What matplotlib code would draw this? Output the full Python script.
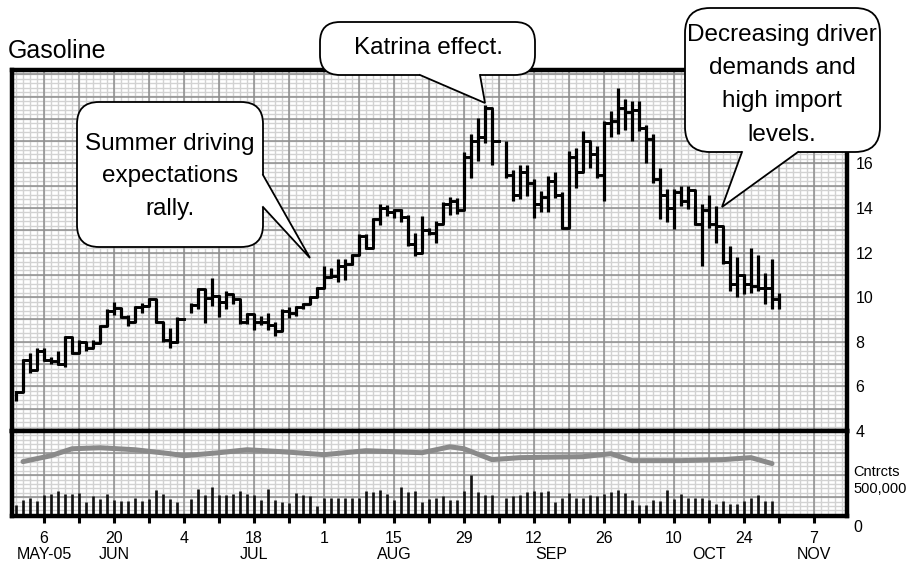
import numpy as np
import matplotlib
matplotlib.use("Agg")
import matplotlib.pyplot as plt
from matplotlib.patches import FancyBboxPatch, Polygon

# ---------------- data ----------------
# trading-day index (business days from Mon 6 Jun 2005); holidays are NaN
days = list(range(-4, 106))
high = [5.8, 7.25, 7.5, 7.7, 7.7, 7.3, 7.6, 8.25, 8.1, 8.1, 8.0, 8.1, 8.75, 9.45, 9.8, 9.5, 9.2, 9.6, 9.75, 9.95,
        9.9, 8.9, 8.6, 9.1, np.nan, 9.75, 10.4, 10.35, 10.85, 10.1, 10.3, 10.05, 9.75, 9.3, 9.25, 9.15, 9.3, 8.9,
        9.45, 9.55, 9.6, 9.75, 10.05, 10.45, 11.4, 11.3, 11.7, 11.7, 11.95, 12.85, 12.85, 13.55, 14.2, 14.15, 13.95,
        13.95, 13.7, 12.9, 13.65, 13.1, 13.4, 14.25, 14.5, 14.45, 16.5, 17.3, 18.05, 18.6, 18.35, np.nan, 17.0, 15.7,
        15.95, 15.95, 15.3, 14.75, 15.45, 15.6, 14.7, 16.55, 16.7, 17.45, 16.95, 16.8, 17.9, 18.35, 19.4, 18.9, 18.8,
        18.8, 17.7, 17.3, 15.8, 14.85, 14.85, 15.0, 15.0, 14.1, 14.2, 14.6, 14.1, 13.1, 12.3, 11.8, 11.05, 12.2,
        11.9, 11.1, 11.7, 10.2]
low = [5.35, 5.75, 6.6, 6.95, 7.15, 7.0, 6.95, 6.85, 7.45, 7.5, 7.6, 7.75, 7.95, 8.7, 9.2, 9.05, 8.7, 8.9, 9.3, 9.6,
       8.85, 8.0, 7.7, 7.95, np.nan, 9.3, 9.45, 8.85, 9.6, 9.1, 9.45, 9.7, 8.8, 8.8, 8.55, 8.75, 8.55, 8.25, 8.5,
       9.05, 9.15, 9.45, 9.7, 10.0, 10.4, 10.85, 10.7, 10.75, 11.45, 11.9, 12.15, 12.5, 13.25, 13.65, 13.55, 13.35,
       12.3, 11.85, 12.2, 12.8, 12.45, 13.35, 13.7, 13.75, 14.4, 15.35, 16.1, 16.9, 15.95, np.nan, 15.35, 14.3, 14.4,
       14.55, 13.55, 13.8, 13.8, 14.45, 13.05, 13.1, 14.9, 15.7, 15.8, 15.35, 14.3, 17.2, 17.3, 17.5, 17.0, 17.45,
       16.0, 15.1, 13.5, 13.35, 13.05, 14.1, 13.95, 13.25, 11.4, 13.1, 12.45, 11.5, 10.3, 10.0, 10.15, 10.2, 10.3,
       9.7, 9.45, 9.45]
close = [5.75, 7.2, 6.75, 7.6, 7.2, 7.15, 7.0, 8.2, 7.5, 8.0, 7.7, 7.95, 8.7, 9.4, 9.5, 9.1, 8.9, 9.55, 9.6, 9.9,
         8.9, 8.1, 8.0, 9.0, np.nan, 9.65, 10.35, 9.95, 10.05, 9.8, 10.15, 9.9, 8.9, 9.25, 8.9, 8.9, 8.75, 8.5, 9.4,
         9.3, 9.55, 9.7, 10.0, 10.4, 10.9, 10.95, 11.4, 11.5, 11.9, 12.75, 12.2, 13.5, 14.0, 13.8, 13.9, 13.6, 12.4,
         12.0, 13.0, 12.9, 13.3, 14.2, 14.3, 13.9, 16.3, 17.0, 17.2, 18.5, 17.0, np.nan, 15.5, 14.6, 15.6, 15.1, 14.2,
         14.5, 15.2, 14.6, 13.1, 16.3, 15.6, 17.0, 16.4, 15.5, 17.8, 17.9, 18.5, 18.3, 18.4, 17.6, 17.1, 15.3, 14.6,
         14.0, 14.7, 14.3, 14.8, 13.3, 13.9, 13.3, 13.2, 11.6, 10.6, 11.0, 10.6, 10.5, 10.4, 10.4, 9.9, 9.8]

vol_days = list(range(-4, 105))
volume = [289, 421, 491, 394, 552, 579, 666, 579, 579, 614, 377, 544, 456, 579, 421, 403, 403, 491, 403, 456,
          701, 579, 456, 368, np.nan, 456, 728, 561, 771, 561, 561, 596, 666, 579, 561, 421, 710, 421, 377, 351,
          614, 561, 544, 263, 491, 491, 491, 491, 491, 491, 666, 640, 684, 596, 421, 771, 640, 666, 377, 465,
          491, 526, 438, 438, 658, 1078, 640, 552, 552, np.nan, 491, 526, 570, 631, 666, 631, 666, 377, 482, 614,
          473, 482, 570, 544, 579, 640, 684, 614, 421, 289, 289, 421, 403, 701, 465, 579, 491, 473, 473, 438,
          316, 403, 316, 316, 403, 491, 552, 403, 403]   # thousands of contracts

oi_days = [-3, 1, 4, 8, 13, 18, 20, 25, 29, 34, 40, 46, 54, 58, 60, 64, 68, 77, 81, 84, 91, 97, 101, 104]
oi = [1447, 1604, 1788, 1815, 1762, 1657, 1604, 1683, 1762, 1710, 1631, 1736, 1683, 1841, 1788, 1499, 1552,
      1578, 1657, 1473, 1473, 1499, 1552, 1394]

week_ticks = list(range(0, 115, 5))
day_labels = ["6", "", "20", "", "4", "", "18", "", "1", "", "15", "", "29", "", "12", "", "26", "", "10", "",
              "24", "", "7"]
months = ["MAY-05", "JUN", "JUL", "AUG", "SEP", "OCT", "NOV"]
month_pos = [0, 10, 30, 50, 72.5, 95, 110]
price_ticks = [4, 6, 8, 10, 12, 14, 16, 18, 20]

# ---------------- layout ----------------
W, H = 908, 566
fig = plt.figure(figsize=(W / 100, H / 100), dpi=100)
fig.patch.set_facecolor("white")
SANS = ["Liberation Sans", "DejaVu Sans"]
plt.rcParams["font.family"] = SANS

L, R, T, MID, B = 12, 847, 70, 431, 516
ax = fig.add_axes([L / W, 1 - MID / H, (R - L) / W, (MID - T) / H])
axv = fig.add_axes([L / W, 1 - B / H, (R - L) / W, (B - MID) / H])

XL = ((L - 44) / 7, (R - 44) / 7)
PX_PER_UNIT = 22.3
ax.set_xlim(*XL)
ax.set_ylim(4, 4 + (MID - T) / PX_PER_UNIT)
G = 500 * PX_PER_UNIT / 19.0
axv.set_xlim(*XL)
axv.set_ylim(0, 500 + 3 * G)

minor_c, major_c = "#d2d2d2", "#8e8e8e"
for a in (ax, axv):
    for d in np.arange(-5, 116, 1):
        a.axvline(d, color=minor_c, lw=1.0, zorder=0)
for d in week_ticks:
    for a in (ax, axv):
        a.axvline(d, color=major_c, lw=1.1, zorder=0.5)

for y in np.arange(4, 20.3, 0.2):
    ax.axhline(y, color=minor_c, lw=1.0, zorder=0)
for y in range(5, 21):
    ax.axhline(y, color=major_c, lw=1.1, zorder=0.5)
for k in range(-3, 16):
    axv.axhline(500 + k * G / 5, color=minor_c, lw=1.0, zorder=0)
for k in range(0, 3):
    axv.axhline(500 + k * G, color=major_c, lw=1.1, zorder=0.5)

# price bars + step line of closes
ax.vlines(days, low, high, color="black", lw=2.3, zorder=3)
ax.plot(days, close, drawstyle="steps-post", color="black", lw=2.1, zorder=3)

# volume + open interest
axv.vlines(vol_days, 0, volume, color="#111111", lw=1.9, zorder=3)
axv.plot(oi_days, oi, color="#8a8a8a", lw=3.6, solid_capstyle="round", solid_joinstyle="round", zorder=3)

for a in (ax, axv):
    for s in a.spines.values():
        s.set_linewidth(3.2)
        s.set_color("black")
        s.set_zorder(5)

ax.set_xticks([])
ax.yaxis.tick_right()
ax.set_yticks(price_ticks)
ax.set_yticklabels([str(v) for v in price_ticks], fontsize=11.5)
ax.tick_params(axis="y", length=0, pad=6)

axv.set_yticks([])
axv.set_xticks(week_ticks)
axv.set_xticklabels(day_labels, fontsize=11.5)
axv.tick_params(axis="x", length=5, width=2.2, pad=6, color="black")
for m, p in zip(months, month_pos):
    axv.text(p, -0.45, m, transform=axv.get_xaxis_transform(), ha="center", va="center", fontsize=11.5)
axv.text(1.008, 0.52, "Cntrcts", transform=axv.transAxes, ha="left", va="center", fontsize=10.5)
axv.text(1.008, 0.32, "500,000", transform=axv.transAxes, ha="left", va="center", fontsize=10.5)
axv.text(1.008, -0.14, "0", transform=axv.transAxes, ha="left", va="center", fontsize=11.5)

fig.text(8 / W, 1 - 51 / H, "Gasoline", ha="left", va="center", fontsize=18)

# ---------------- callouts (pixel overlay) ----------------
ov = fig.add_axes([0, 0, 1, 1], zorder=10)
ov.set_xlim(0, W)
ov.set_ylim(H, 0)
ov.axis("off")
ov.patch.set_alpha(0)


def bubble(x0, y0, x1, y1, r, base1, base2, tip, inward):
    box = FancyBboxPatch((x0 + r, y0 + r), (x1 - x0) - 2 * r, (y1 - y0) - 2 * r,
                         boxstyle=f"round,pad={r}", fc="white", ec="black", lw=1.3, zorder=1)
    ov.add_patch(box)
    dx, dy = inward
    poly = [(base1[0] + dx, base1[1] + dy), base1, tip, base2, (base2[0] + dx, base2[1] + dy)]
    ov.add_patch(Polygon(poly, closed=True, fc="white", ec="none", zorder=2))
    ov.plot([base1[0], tip[0], base2[0]], [base1[1], tip[1], base2[1]], color="black", lw=1.3, zorder=3,
            solid_joinstyle="miter")


bubble(77, 102, 263, 247, 22, (263, 175), (263, 207), (310, 258), (-6, 0))
bubble(320, 22, 535, 75, 20, (420, 75), (480, 75), (485, 103), (0, -6))
bubble(685, 8, 880, 152, 25, (742, 152), (798, 152), (722, 207), (0, -6))

FS = 17.5
for txt, y in zip(["Summer driving", "expectations", "rally."], [150, 182, 215]):
    ov.text(170, y, txt, ha="center", va="baseline", fontsize=FS, zorder=5)
ov.text(428, 54, "Katrina effect.", ha="center", va="baseline", fontsize=FS, zorder=5)
for txt, y in zip(["Decreasing driver", "demands and", "high import", "levels."], [41, 74, 107, 141]):
    ov.text(782, y, txt, ha="center", va="baseline", fontsize=FS, zorder=5)

fig.savefig("out.png", dpi=100, facecolor="white")
